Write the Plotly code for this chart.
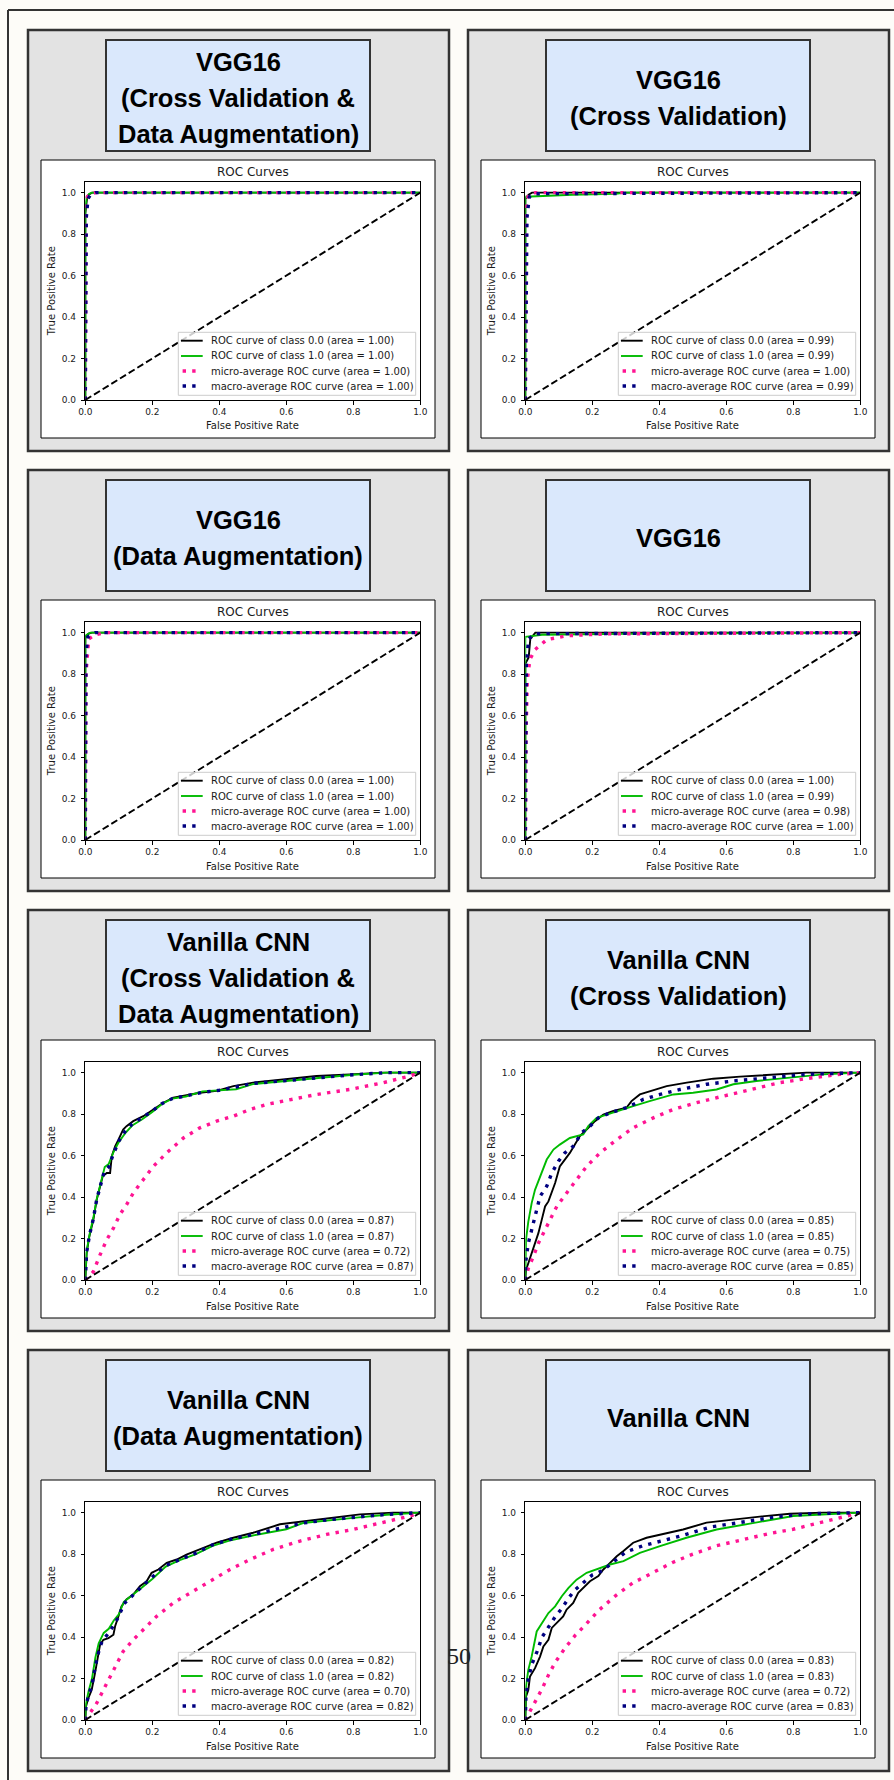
import plotly.graph_objects as go

# ---------------- data ----------------
PANEL_TITLES = [
    ["VGG16", "(Cross Validation &", "Data Augmentation)"],
    ["VGG16", "(Cross Validation)"],
    ["VGG16", "(Data Augmentation)"],
    ["VGG16"],
    ["Vanilla CNN", "(Cross Validation &", "Data Augmentation)"],
    ["Vanilla CNN", "(Cross Validation)"],
    ["Vanilla CNN", "(Data Augmentation)"],
    ["Vanilla CNN"],
]
AUC_CLASS0 = [1.00, 0.99, 1.00, 1.00, 0.87, 0.85, 0.82, 0.83]
AUC_CLASS1 = [1.00, 0.99, 1.00, 0.99, 0.87, 0.85, 0.82, 0.83]
AUC_MICRO = [1.00, 1.00, 1.00, 0.98, 0.72, 0.75, 0.70, 0.72]
AUC_MACRO = [1.00, 0.99, 1.00, 1.00, 0.87, 0.85, 0.82, 0.83]
TICKS = [0.0, 0.2, 0.4, 0.6, 0.8, 1.0]
TICK_LABELS = ["0.0", "0.2", "0.4", "0.6", "0.8", "1.0"]

# (fpr, tpr) points
P1_C0 = [(0, 0), (0, 0.9), (0.005, 0.97), (0.01, 0.99), (0.02, 1.0), (1, 1)]
P1_C1 = [(0, 0), (0, 0.92), (0.004, 0.98), (0.012, 0.995), (0.02, 1.0), (1, 1)]
P1_MI = [(0, 0), (0.002, 0.9), (0.006, 0.98), (0.015, 0.995), (0.03, 1.0), (1, 1)]
P1_MA = [(0, 0), (0.003, 0.88), (0.008, 0.97), (0.015, 0.99), (0.03, 1.0), (1, 1)]

P2_C0 = [(0, 0), (0, 0.97), (0.01, 0.99), (0.02, 1.0), (1, 1)]
P2_C1 = [(0, 0), (0, 0.98), (0.14, 0.99), (0.27, 0.995), (0.3, 1.0), (1, 1)]
P2_MI = [(0, 0), (0.003, 0.95), (0.01, 0.99), (0.03, 1.0), (1, 1)]
P2_MA = [(0, 0), (0.005, 0.88), (0.012, 0.98), (0.03, 0.995), (1, 1)]

P3_C0 = [(0, 0), (0, 0.98), (0.01, 0.995), (0.02, 1.0), (1, 1)]
P3_C1 = [(0, 0), (0, 0.985), (0.015, 1.0), (1, 1)]
P3_MI = [(0, 0), (0.002, 0.8), (0.01, 0.97), (0.03, 0.99), (0.06, 1.0), (1, 1)]
P3_MA = [(0, 0), (0.002, 0.9), (0.008, 0.98), (0.03, 1.0), (1, 1)]

P4_C0 = [(0, 0), (0, 0.85), (0.01, 0.88), (0.015, 0.97), (0.03, 1.0), (1, 1)]
P4_C1 = [(0, 0), (0, 0.98), (0.05, 0.99), (0.3, 0.995), (1, 1)]
P4_MI = [(0, 0), (0.001, 0.08), (0.002, 0.49), (0.006, 0.775), (0.014, 0.872),
         (0.029, 0.918), (0.064, 0.966), (0.094, 0.976), (0.123, 0.985),
         (0.183, 0.99), (0.243, 0.994), (0.6, 0.997), (1, 1)]
P4_MA = [(0, 0), (0.003, 0.85), (0.01, 0.97), (0.03, 0.995), (1, 1)]

P5_C0 = [(0, 0), (0.004, 0.129), (0.012, 0.21), (0.024, 0.29), (0.034, 0.387),
         (0.044, 0.452), (0.052, 0.5), (0.064, 0.516), (0.074, 0.516), (0.079, 0.597),
         (0.089, 0.645), (0.099, 0.677), (0.113, 0.726), (0.123, 0.742), (0.143, 0.766),
         (0.173, 0.79), (0.203, 0.823), (0.233, 0.855), (0.263, 0.879), (0.302, 0.892),
         (0.342, 0.903), (0.392, 0.912), (0.442, 0.935), (0.501, 0.952), (0.591, 0.968),
         (0.69, 0.984), (0.79, 0.992), (0.89, 1.0), (1, 1)]
P5_C1 = [(0, 0), (0.004, 0.14), (0.014, 0.23), (0.024, 0.3), (0.034, 0.39),
         (0.044, 0.46), (0.058, 0.545), (0.07, 0.56), (0.085, 0.62), (0.1, 0.665),
         (0.12, 0.71), (0.14, 0.745), (0.17, 0.775), (0.2, 0.81), (0.23, 0.85),
         (0.26, 0.875), (0.3, 0.885), (0.35, 0.91), (0.4, 0.915), (0.45, 0.92),
         (0.5, 0.945), (0.6, 0.96), (0.7, 0.972), (0.8, 0.99), (0.9, 1.0), (1, 1)]
P5_MI = [(0, 0), (0.024, 0.04), (0.044, 0.121), (0.064, 0.194), (0.084, 0.25),
         (0.103, 0.315), (0.123, 0.363), (0.143, 0.419), (0.173, 0.484), (0.203, 0.548),
         (0.243, 0.613), (0.293, 0.685), (0.342, 0.734), (0.392, 0.766), (0.442, 0.79),
         (0.492, 0.823), (0.541, 0.847), (0.611, 0.871), (0.691, 0.895), (0.79, 0.919),
         (0.89, 0.952), (0.969, 0.984), (1, 1)]
P5_MA = [(0, 0), (0.004, 0.135), (0.013, 0.22), (0.024, 0.295), (0.034, 0.388),
         (0.044, 0.456), (0.056, 0.52), (0.07, 0.545), (0.082, 0.6), (0.1, 0.67),
         (0.12, 0.72), (0.14, 0.752), (0.17, 0.782), (0.2, 0.815), (0.23, 0.852),
         (0.26, 0.875), (0.3, 0.888), (0.35, 0.905), (0.4, 0.915), (0.45, 0.93),
         (0.5, 0.948), (0.6, 0.962), (0.7, 0.978), (0.8, 0.99), (0.9, 1.0), (1, 1)]

P6_C0 = [(0, 0), (0.002, 0.048), (0.009, 0.081), (0.019, 0.129), (0.029, 0.177),
         (0.039, 0.226), (0.049, 0.29), (0.059, 0.355), (0.069, 0.379), (0.079, 0.419),
         (0.089, 0.468), (0.103, 0.548), (0.118, 0.581), (0.133, 0.613), (0.148, 0.653),
         (0.163, 0.694), (0.183, 0.726), (0.208, 0.766), (0.233, 0.798), (0.263, 0.815),
         (0.302, 0.831), (0.317, 0.863), (0.342, 0.895), (0.382, 0.916), (0.422, 0.935),
         (0.482, 0.952), (0.561, 0.971), (0.641, 0.981), (0.74, 0.992), (0.84, 1.0), (1, 1)]
P6_C1 = [(0, 0), (0.002, 0.194), (0.009, 0.282), (0.019, 0.371), (0.029, 0.435),
         (0.044, 0.5), (0.064, 0.581), (0.084, 0.629), (0.103, 0.653), (0.133, 0.685),
         (0.153, 0.694), (0.173, 0.702), (0.188, 0.742), (0.213, 0.782), (0.243, 0.798),
         (0.273, 0.815), (0.322, 0.839), (0.371, 0.863), (0.442, 0.895), (0.501, 0.903),
         (0.571, 0.919), (0.621, 0.944), (0.69, 0.96), (0.79, 0.976), (0.89, 0.992), (1, 1)]
P6_MI = [(0, 0), (0.009, 0.056), (0.024, 0.113), (0.039, 0.177), (0.054, 0.226),
         (0.074, 0.29), (0.094, 0.355), (0.123, 0.419), (0.153, 0.484), (0.183, 0.548),
         (0.223, 0.613), (0.273, 0.677), (0.322, 0.734), (0.382, 0.782), (0.442, 0.823),
         (0.511, 0.855), (0.591, 0.887), (0.671, 0.919), (0.76, 0.952), (0.86, 0.976),
         (0.939, 0.992), (1, 1)]
P6_MA = [(0, 0), (0.002, 0.097), (0.009, 0.177), (0.019, 0.242), (0.029, 0.315),
         (0.044, 0.403), (0.064, 0.452), (0.079, 0.516), (0.099, 0.573), (0.118, 0.613),
         (0.143, 0.645), (0.168, 0.71), (0.193, 0.742), (0.218, 0.782), (0.253, 0.806),
         (0.302, 0.831), (0.352, 0.871), (0.402, 0.895), (0.462, 0.919), (0.541, 0.944),
         (0.621, 0.96), (0.72, 0.976), (0.84, 0.992), (1, 1)]

P7_C0 = [(0, 0), (0.002, 0.065), (0.009, 0.105), (0.019, 0.145), (0.029, 0.226),
         (0.039, 0.306), (0.044, 0.363), (0.054, 0.387), (0.069, 0.395), (0.084, 0.411),
         (0.089, 0.452), (0.099, 0.5), (0.108, 0.548), (0.123, 0.581), (0.143, 0.605),
         (0.163, 0.645), (0.183, 0.669), (0.198, 0.71), (0.218, 0.726), (0.243, 0.758),
         (0.273, 0.774), (0.302, 0.798), (0.342, 0.823), (0.392, 0.855), (0.442, 0.879),
         (0.501, 0.903), (0.581, 0.944), (0.661, 0.96), (0.74, 0.976), (0.82, 0.992),
         (0.919, 1.0), (1, 1)]
P7_C1 = [(0, 0), (0.002, 0.08), (0.01, 0.14), (0.02, 0.2), (0.03, 0.3), (0.04, 0.37),
         (0.055, 0.42), (0.07, 0.44), (0.085, 0.48), (0.1, 0.51), (0.115, 0.57),
         (0.14, 0.6), (0.17, 0.64), (0.2, 0.68), (0.24, 0.74), (0.28, 0.77), (0.33, 0.8),
         (0.38, 0.84), (0.43, 0.865), (0.5, 0.89), (0.57, 0.91), (0.6, 0.92),
         (0.65, 0.95), (0.72, 0.96), (0.8, 0.975), (0.9, 0.99), (1, 1)]
P7_MI = [(0, 0), (0.014, 0.032), (0.034, 0.081), (0.054, 0.145), (0.074, 0.21),
         (0.094, 0.274), (0.113, 0.331), (0.143, 0.387), (0.173, 0.435), (0.213, 0.5),
         (0.263, 0.565), (0.312, 0.613), (0.372, 0.669), (0.432, 0.726), (0.492, 0.774),
         (0.561, 0.823), (0.641, 0.863), (0.72, 0.895), (0.8, 0.919), (0.89, 0.952),
         (0.969, 0.984), (1, 1)]
P7_MA = [(0, 0), (0.002, 0.07), (0.01, 0.12), (0.02, 0.17), (0.03, 0.26), (0.04, 0.33),
         (0.05, 0.38), (0.07, 0.42), (0.09, 0.47), (0.1, 0.5), (0.115, 0.56),
         (0.14, 0.6), (0.17, 0.645), (0.2, 0.69), (0.24, 0.745), (0.28, 0.772),
         (0.33, 0.805), (0.38, 0.845), (0.43, 0.87), (0.5, 0.895), (0.58, 0.925),
         (0.65, 0.95), (0.72, 0.965), (0.8, 0.978), (0.9, 0.992), (1, 1)]

P8_C0 = [(0, 0), (0.002, 0.113), (0.009, 0.145), (0.014, 0.21), (0.029, 0.25),
         (0.044, 0.306), (0.054, 0.355), (0.069, 0.387), (0.079, 0.444), (0.094, 0.468),
         (0.113, 0.5), (0.123, 0.532), (0.143, 0.565), (0.158, 0.613), (0.173, 0.637),
         (0.193, 0.669), (0.218, 0.694), (0.233, 0.726), (0.253, 0.758), (0.273, 0.79),
         (0.293, 0.815), (0.322, 0.855), (0.362, 0.879), (0.422, 0.903), (0.471, 0.919),
         (0.541, 0.952), (0.621, 0.968), (0.7, 0.981), (0.79, 0.995), (0.89, 1.0), (1, 1)]
P8_C1 = [(0, 0), (0.002, 0.161), (0.009, 0.242), (0.019, 0.306), (0.034, 0.427),
         (0.049, 0.468), (0.069, 0.516), (0.089, 0.548), (0.109, 0.597), (0.129, 0.637),
         (0.153, 0.677), (0.183, 0.71), (0.213, 0.726), (0.253, 0.75), (0.293, 0.766),
         (0.342, 0.806), (0.402, 0.839), (0.481, 0.879), (0.571, 0.919), (0.661, 0.944),
         (0.74, 0.968), (0.8, 0.984), (1, 1)]
P8_MI = [(0, 0), (0.01, 0.03), (0.03, 0.09), (0.05, 0.15), (0.07, 0.22), (0.09, 0.28),
         (0.12, 0.35), (0.15, 0.41), (0.18, 0.46), (0.22, 0.53), (0.27, 0.6),
         (0.32, 0.66), (0.38, 0.71), (0.44, 0.76), (0.5, 0.8), (0.57, 0.84),
         (0.65, 0.87), (0.73, 0.9), (0.8, 0.92), (0.88, 0.95), (0.95, 0.98), (1, 1)]
P8_MA = [(0, 0), (0.002, 0.12), (0.009, 0.2), (0.02, 0.27), (0.035, 0.33), (0.05, 0.4),
         (0.07, 0.45), (0.09, 0.5), (0.11, 0.54), (0.13, 0.59), (0.15, 0.63),
         (0.17, 0.66), (0.2, 0.7), (0.23, 0.72), (0.26, 0.76), (0.3, 0.81),
         (0.35, 0.84), (0.4, 0.86), (0.47, 0.89), (0.55, 0.93), (0.65, 0.955),
         (0.75, 0.98), (0.85, 0.995), (1, 1)]

CURVES = [
    (P1_C0, P1_C1, P1_MI, P1_MA), (P2_C0, P2_C1, P2_MI, P2_MA),
    (P3_C0, P3_C1, P3_MI, P3_MA), (P4_C0, P4_C1, P4_MI, P4_MA),
    (P5_C0, P5_C1, P5_MI, P5_MA), (P6_C0, P6_C1, P6_MI, P6_MA),
    (P7_C0, P7_C1, P7_MI, P7_MA), (P8_C0, P8_C1, P8_MI, P8_MA),
]

# ---------------- styling ----------------
W, H = 894, 1780
PAGE_BG = "#fdfcf8"
PANEL_BG = "#e3e3e3"
TITLE_BG = "#dae8fc"
EDGE = "#333333"
C0_COLOR = "#000000"
C1_COLOR = "#00bb00"
MICRO_COLOR = "#ff1493"
MACRO_COLOR = "#000080"
TXT = "#1a1a1a"
SANS = "DejaVu Sans"
TITLE_FONT = "Liberation Sans, Arial, sans-serif"

COL_X = [28, 468]
ROW_Y = [30, 470, 910, 1350]
PANEL_W, PANEL_H = 421, 421
PLOT_L, PLOT_R, PLOT_T, PLOT_B = 57.3, 392.3, 152.3, 370.0

DOT_DASH = "3.4px,6.2px"
DIAG_DASH = "7px,3.2px"


def fx(px):
    return px / W


def fy(py):
    return 1 - py / H


fig = go.Figure()
shapes = []
annotations = []

# page outer frame
shapes.append(dict(type="line", xref="paper", yref="paper", x0=fx(8), x1=fx(8),
                   y0=0, y1=fy(10), line=dict(color=EDGE, width=2)))
shapes.append(dict(type="line", xref="paper", yref="paper", x0=fx(8), x1=1,
                   y0=fy(10), y1=fy(10), line=dict(color=EDGE, width=2)))

layout_axes = {}
for i in range(8):
    col = i % 2
    row = i // 2
    X0 = COL_X[col]
    Y0 = ROW_Y[row]
    # panel background
    shapes.append(dict(type="rect", xref="paper", yref="paper", layer="below",
                       x0=fx(X0), x1=fx(X0 + PANEL_W), y0=fy(Y0), y1=fy(Y0 + PANEL_H),
                       fillcolor=PANEL_BG, line=dict(color=EDGE, width=2.5)))
    # title box
    shapes.append(dict(type="rect", xref="paper", yref="paper", layer="below",
                       x0=fx(X0 + 78), x1=fx(X0 + 342), y0=fy(Y0 + 10), y1=fy(Y0 + 121),
                       fillcolor=TITLE_BG, line=dict(color=EDGE, width=2)))
    # chart box
    shapes.append(dict(type="rect", xref="paper", yref="paper", layer="below",
                       x0=fx(X0 + 13), x1=fx(X0 + 407), y0=fy(Y0 + 130), y1=fy(Y0 + 408),
                       fillcolor="white", line=dict(color="black", width=1)))
    # title lines
    lines = PANEL_TITLES[i]
    n = len(lines)
    for k, t in enumerate(lines):
        cy = Y0 + 67 + (k - (n - 1) / 2) * 35.8
        annotations.append(dict(xref="paper", yref="paper", x=fx(X0 + 210), y=fy(cy + 1),
                                text="<b>" + t + "</b>", showarrow=False,
                                xanchor="center", yanchor="middle",
                                font=dict(family=TITLE_FONT, size=25.5, color="#000000")))

    pl, pr = X0 + PLOT_L, X0 + PLOT_R
    pt, pb = Y0 + PLOT_T, Y0 + PLOT_B
    suffix = "" if i == 0 else str(i + 1)
    xa, ya = "x" + suffix, "y" + suffix
    common = dict(showline=True, mirror=True, linecolor="black", linewidth=1,
                  ticks="outside", ticklen=3.5, tickwidth=0.8, tickcolor="black",
                  tickvals=TICKS, ticktext=TICK_LABELS, showgrid=False, zeroline=False,
                  tickfont=dict(family=SANS, size=9, color=TXT), fixedrange=True,
                  automargin=False)
    layout_axes["xaxis" + suffix] = dict(domain=[fx(pl), fx(pr)], range=[0, 1],
                                         anchor=ya, **common)
    layout_axes["yaxis" + suffix] = dict(domain=[fy(pb), fy(pt)], range=[0, 1.05],
                                         anchor=xa, ticklabelstandoff=3, **common)

    c0, c1, mi, ma = CURVES[i]
    specs = [
        (c0, C0_COLOR, 1.9, "solid", "ROC curve of class 0.0 (area = %.2f)" % AUC_CLASS0[i]),
        (c1, C1_COLOR, 1.9, "solid", "ROC curve of class 1.0 (area = %.2f)" % AUC_CLASS1[i]),
        (mi, MICRO_COLOR, 3.4, DOT_DASH, "micro-average ROC curve (area = %.2f)" % AUC_MICRO[i]),
        (ma, MACRO_COLOR, 3.4, DOT_DASH, "macro-average ROC curve (area = %.2f)" % AUC_MACRO[i]),
    ]
    for pts, color, width, dash, name in specs:
        fig.add_trace(go.Scatter(x=[p[0] for p in pts], y=[p[1] for p in pts],
                                 mode="lines", name=name, xaxis=xa, yaxis=ya,
                                 line=dict(color=color, width=width, dash=dash),
                                 hoverinfo="skip", showlegend=False))
    fig.add_trace(go.Scatter(x=[0, 1], y=[0, 1], mode="lines", xaxis=xa, yaxis=ya,
                             line=dict(color="black", width=1.9, dash=DIAG_DASH),
                             hoverinfo="skip", showlegend=False))

    # chart texts
    annotations.append(dict(xref="paper", yref="paper", x=fx((pl + pr) / 2), y=fy(Y0 + 142),
                            text="ROC Curves", showarrow=False, xanchor="center",
                            yanchor="middle", font=dict(family=SANS, size=12, color=TXT)))
    annotations.append(dict(xref="paper", yref="paper", x=fx((pl + pr) / 2), y=fy(Y0 + 396),
                            text="False Positive Rate", showarrow=False, xanchor="center",
                            yanchor="middle", font=dict(family=SANS, size=10, color=TXT)))
    annotations.append(dict(xref="paper", yref="paper", x=fx(X0 + 23), y=fy((pt + pb) / 2),
                            text="True Positive Rate", showarrow=False, textangle=-90,
                            xanchor="center", yanchor="middle",
                            font=dict(family=SANS, size=10, color=TXT)))

    # legend (lower right)
    shapes.append(dict(type="rect", xref="paper", yref="paper",
                       x0=fx(pl + 93), x1=fx(pl + 330.4), y0=fy(pt + 150), y1=fy(pt + 213),
                       fillcolor="rgba(255,255,255,0.8)", line=dict(color="#cccccc", width=1)))
    row_ys = [158.4, 173.7, 188.7, 203.7]
    for (pts, color, width, dash, name), ry in zip(specs, row_ys):
        if dash == "solid":
            sx0, sx1 = pl + 95.7, pl + 117.4
        else:
            sx0, sx1 = pl + 97.3, pl + 113.8
        shapes.append(dict(type="line", xref="paper", yref="paper",
                           x0=fx(sx0), x1=fx(sx1), y0=fy(pt + ry), y1=fy(pt + ry),
                           line=dict(color=color, width=width, dash=dash)))
        annotations.append(dict(xref="paper", yref="paper", x=fx(pl + 124), y=fy(pt + ry),
                                text=name, showarrow=False, xanchor="left", yanchor="middle",
                                font=dict(family=SANS, size=10, color=TXT)))

# page number overlaid between panels
annotations.append(dict(xref="paper", yref="paper", x=fx(458.5), y=fy(1656), text="50",
                        showarrow=False, xanchor="center", yanchor="middle",
                        font=dict(family="Liberation Serif, serif", size=24, color="#222222")))

fig.update_layout(width=W, height=H, autosize=False,
                  margin=dict(l=0, r=0, t=0, b=0, pad=0, autoexpand=False),
                  paper_bgcolor=PAGE_BG, plot_bgcolor="white",
                  showlegend=False, shapes=shapes, annotations=annotations, **layout_axes)

fig.write_html("out.html", config={"responsive": False})
